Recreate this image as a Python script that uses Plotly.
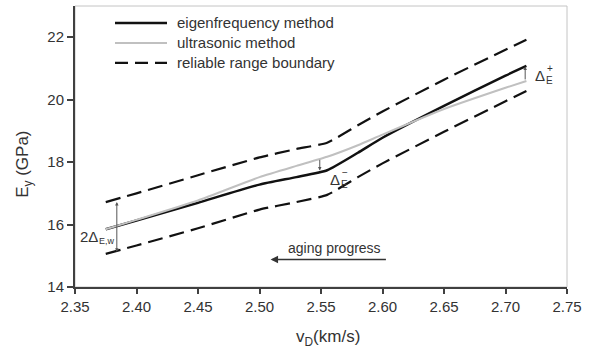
import plotly.graph_objects as go

# ---- data ----
vD = [2.375, 2.40, 2.45, 2.50, 2.53, 2.555, 2.58, 2.60, 2.65, 2.70, 2.717]
E_eigen = [15.85, 16.13, 16.70, 17.28, 17.52, 17.74, 18.30, 18.78, 19.80, 20.77, 21.08]
E_ultra = [15.85, 16.15, 16.77, 17.52, 17.88, 18.17, 18.54, 18.88, 19.70, 20.38, 20.60]
E_upper = [16.72, 17.00, 17.58, 18.15, 18.42, 18.62, 19.18, 19.62, 20.64, 21.60, 21.92]
E_lower = [15.06, 15.33, 15.88, 16.48, 16.72, 16.95, 17.52, 17.96, 18.97, 19.95, 20.28]

series_names = ["eigenfrequency method", "ultrasonic method", "reliable range boundary"]

x_ticks = [2.35, 2.40, 2.45, 2.50, 2.55, 2.60, 2.65, 2.70, 2.75]
y_ticks = [14, 16, 18, 20, 22]

# annotation anchor values (data units)
dminus_x, dminus_top, dminus_bot = 2.549, 18.12, 17.73
dplus_x, dplus_bot, dplus_top = 2.716, 20.60, 21.06
dw_x, dw_top, dw_bot = 2.384, 16.72, 15.08
aging_x0, aging_x1, aging_y = 2.604, 2.509, 14.88

FONT = "Liberation Sans, Arial, sans-serif"
TXT = "#333333"
BLACK = "#111111"
GREY = "#c0c0c0"
DASH = "15px,7px"

styles = [dict(color=BLACK, width=2.5),
          dict(color=GREY, width=2),
          dict(color=BLACK, width=2.2, dash=DASH)]

fig = go.Figure()
for yy, st, nm in [(E_eigen, styles[0], series_names[0]),
                   (E_ultra, styles[1], series_names[1]),
                   (E_upper, styles[2], series_names[2]),
                   (E_lower, styles[2], series_names[2])]:
    fig.add_trace(go.Scatter(x=vD, y=yy, mode="lines", name=nm, showlegend=False,
                             line=dict(shape="spline", smoothing=0.5, **st)))

# plot-area geometry in px (for the hand-made legend)
L, R, T, B = 75, 567, 6, 287.3
def px2paper_x(px):
    return (px - L) / (R - L)
def px2paper_y(py):
    return (B - py) / (B - T)

ann = []
shapes = [dict(type="rect", xref="paper", yref="paper", x0=0, x1=1, y0=0, y1=1,
               line=dict(color="#c4c4c4", width=1), layer="below")]

# legend (line samples + labels)
legend_rows = [23, 43, 63]
for row, st, nm in zip(legend_rows, styles, series_names):
    yp = px2paper_y(row)
    shapes.append(dict(type="line", xref="paper", yref="paper",
                       x0=px2paper_x(115), x1=px2paper_x(167), y0=yp, y1=yp,
                       line=dict(color=st["color"], width=st["width"],
                                 dash="13px,7px" if "dash" in st else "solid")))
    ann.append(dict(x=px2paper_x(175), y=yp, xref="paper", yref="paper", text=nm,
                    showarrow=False, xanchor="left", yanchor="middle",
                    font=dict(size=15, color=TXT, family=FONT)))

arrow_col = "#555555"
# Delta- arrow
ann.append(dict(x=dminus_x, y=dminus_bot, ax=dminus_x, ay=dminus_top, xref="x", yref="y",
                axref="x", ayref="y", showarrow=True, arrowhead=2, arrowsize=0.7,
                arrowwidth=1, arrowcolor=arrow_col, text=""))
# Delta+ arrow
ann.append(dict(x=dplus_x, y=dplus_top, ax=dplus_x, ay=dplus_bot, xref="x", yref="y",
                axref="x", ayref="y", showarrow=True, arrowhead=2, arrowsize=0.7,
                arrowwidth=1, arrowcolor=arrow_col, text=""))
# 2 Delta_E,w double arrow
ann.append(dict(x=dw_x, y=dw_top, ax=dw_x, ay=dw_bot, xref="x", yref="y",
                axref="x", ayref="y", showarrow=True, arrowhead=2, startarrowhead=2,
                arrowside="end+start", arrowsize=0.7, startarrowsize=0.7,
                arrowwidth=1, arrowcolor=arrow_col, text=""))
# aging progress arrow
ann.append(dict(x=aging_x1, y=aging_y, ax=aging_x0, ay=aging_y, xref="x", yref="y",
                axref="x", ayref="y", showarrow=True, arrowhead=2, arrowsize=1,
                arrowwidth=1.5, arrowcolor="#333333", text=""))
ann.append(dict(x=2.561, y=15.26, xref="x", yref="y", text="aging progress", showarrow=False,
                font=dict(size=14, color=TXT, family=FONT)))

# Delta labels (stacked sup/sub)
def delta_label(x, y, sup):
    return [dict(x=x, y=y, xref="x", yref="y", text="Δ", showarrow=False, xanchor="left",
                 font=dict(size=15, color=TXT, family=FONT)),
            dict(x=x, y=y, xref="x", yref="y", text=sup, showarrow=False, xanchor="left",
                 xshift=12, yshift=7, font=dict(size=10, color=TXT, family=FONT)),
            dict(x=x, y=y, xref="x", yref="y", text="E", showarrow=False, xanchor="left",
                 xshift=11, yshift=-5, font=dict(size=10, color=TXT, family=FONT))]

ann += delta_label(2.5555, 17.45, "−")
ann += delta_label(2.7225, 20.78, "+")
ann.append(dict(x=2.3525, y=15.62, xref="x", yref="y", text="2Δ", showarrow=False,
                xanchor="left", font=dict(size=15, color=TXT, family=FONT)))
ann.append(dict(x=2.3525, y=15.62, xref="x", yref="y", text="E,w", showarrow=False,
                xanchor="left", xshift=19, yshift=-5, font=dict(size=9, color=TXT, family=FONT)))

# axis titles
ann.append(dict(x=0, y=px2paper_y(165), xref="paper", yref="paper", yanchor="middle",
                xanchor="center", xshift=-51, textangle=-90, showarrow=False,
                text="E<sub>y</sub> (GPa)", font=dict(size=17, color=TXT, family=FONT)))
ann.append(dict(x=px2paper_x(327.5), y=0, xref="paper", yref="paper", yanchor="middle",
                xanchor="center", yshift=-51, showarrow=False,
                text="v<sub>D</sub>(km/s)", font=dict(size=17, color=TXT, family=FONT)))

fig.update_layout(
    width=591, height=352,
    margin=dict(l=75, r=24, t=6, b=65),
    paper_bgcolor="white", plot_bgcolor="white",
    font=dict(family=FONT, size=15, color=TXT),
    showlegend=False,
    annotations=ann,
    shapes=shapes,
    xaxis=dict(range=[2.35, 2.75], tickvals=x_ticks, tickformat=".2f", showgrid=False,
               zeroline=False, showline=True, linecolor="#404040", linewidth=2,
               ticks="outside", ticklen=5, tickwidth=1.5, tickcolor="#404040",
               tickfont=dict(size=15, color=TXT, family=FONT)),
    yaxis=dict(range=[14, 23], tickvals=y_ticks, showgrid=False, zeroline=False,
               showline=True, linecolor="#404040", linewidth=2,
               ticks="outside", ticklen=6, tickwidth=1.5, tickcolor="#404040",
               tickfont=dict(size=15, color=TXT, family=FONT)),
)

fig.write_html("out.html", config={"displayModeBar": False},
               post_script="document.body.style.margin='0';")
